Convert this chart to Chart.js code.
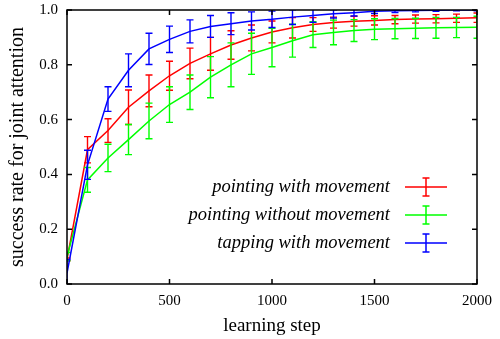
<!DOCTYPE html>
<html>
<head>
<meta charset="utf-8">
<script src="https://cdn.jsdelivr.net/npm/chart.js@4.4.1/dist/chart.umd.min.js"></script>
<style>
  html, body { margin: 0; padding: 0; background: #fff; }
  #chart { display: block; }
</style>
</head>
<body>
<canvas id="chart" width="500" height="339"></canvas>
<script>
// learning steps (x values)
const steps = [0, 100, 200, 300, 400, 500, 600, 700, 800, 900, 1000,
  1100, 1200, 1300, 1400, 1500, 1600, 1700, 1800, 1900, 2000];

// pointing with movement
const pointingWithMean = [0.09, 0.49, 0.56, 0.645, 0.705, 0.76, 0.805, 0.84, 0.872, 0.898, 0.92,
  0.935, 0.947, 0.954, 0.959, 0.962, 0.965, 0.967, 0.968, 0.97, 0.972];
const pointingWithErr = [0.005, 0.048, 0.043, 0.063, 0.058, 0.053, 0.056, 0.06, 0.052, 0.047, 0.04,
  0.037, 0.025, 0.02, 0.018, 0.017, 0.015, 0.015, 0.015, 0.015, 0.017];

// pointing without movement
const pointingWithoutMean = [0.1, 0.38, 0.46, 0.527, 0.595, 0.655, 0.70, 0.755, 0.80, 0.84, 0.863,
  0.888, 0.91, 0.918, 0.925, 0.93, 0.932, 0.933, 0.935, 0.936, 0.937];
const pointingWithoutErr = [0.015, 0.045, 0.05, 0.055, 0.065, 0.065, 0.063, 0.075, 0.08, 0.075, 0.07,
  0.06, 0.047, 0.045, 0.04, 0.038, 0.037, 0.037, 0.038, 0.037, 0.04];

// tapping with movement
const tappingMean = [0.04, 0.435, 0.675, 0.78, 0.858, 0.893, 0.922, 0.94, 0.95, 0.96, 0.966,
  0.974, 0.98, 0.986, 0.99, 0.995, 0.997, 0.998, 0.999, 1.0, 1.0];
const tappingErr = [0.05, 0.053, 0.045, 0.06, 0.057, 0.048, 0.042, 0.04, 0.04, 0.033, 0.03,
  0.027, 0.025, 0.015, 0.012, 0.008, 0.006, 0.005, 0.004, 0.003, 0.003];

const xTicks = [0, 500, 1000, 1500, 2000];
const yTicks = [0.0, 0.2, 0.4, 0.6, 0.8, 1.0];

const FONT = "'Liberation Serif', 'DejaVu Serif', serif";

const toPoints = (means) => means.map((v, i) => ({ x: steps[i], y: v }));

// error bars drawn right after each line so the stacking follows the dataset order
const errorBars = {
  id: 'errorBars',
  afterDatasetDraw(chart, args) {
    const ds = chart.data.datasets[args.index];
    const { ctx, chartArea } = chart;
    const x = chart.scales.x, y = chart.scales.y;
    ctx.save();
    ctx.beginPath();
    ctx.rect(chartArea.left, chartArea.top, chartArea.width, chartArea.height);
    ctx.clip();
    ctx.strokeStyle = ds.borderColor;
    ctx.lineWidth = 1.4;
    ds.data.forEach((p, i) => {
      const px = x.getPixelForValue(p.x);
      const lo = y.getPixelForValue(p.y - ds.errors[i]);
      const hi = y.getPixelForValue(p.y + ds.errors[i]);
      ctx.beginPath();
      ctx.moveTo(px, lo); ctx.lineTo(px, hi);
      ctx.moveTo(px - 3.5, lo); ctx.lineTo(px + 3.5, lo);
      ctx.moveTo(px - 3.5, hi); ctx.lineTo(px + 3.5, hi);
      ctx.stroke();
    });
    ctx.restore();
  }
};

// gnuplot-like frame with inward ticks on all sides, plus the legend
const frameAndLegend = {
  id: 'frameAndLegend',
  afterDraw(chart) {
    const { ctx, chartArea: a } = chart;
    const x = chart.scales.x, y = chart.scales.y;
    ctx.save();
    ctx.strokeStyle = '#000';
    ctx.lineWidth = 1.5;
    ctx.strokeRect(a.left, a.top, a.right - a.left, a.bottom - a.top);
    ctx.beginPath();
    xTicks.forEach(v => {
      const px = x.getPixelForValue(v);
      ctx.moveTo(px, a.bottom); ctx.lineTo(px, a.bottom - 5);
      ctx.moveTo(px, a.top); ctx.lineTo(px, a.top + 5);
    });
    yTicks.forEach(v => {
      const py = y.getPixelForValue(v);
      ctx.moveTo(a.left, py); ctx.lineTo(a.left + 5, py);
      ctx.moveTo(a.right, py); ctx.lineTo(a.right - 5, py);
    });
    ctx.stroke();

    // legend
    ctx.font = 'italic 18.5px ' + FONT;
    ctx.textAlign = 'right';
    ctx.textBaseline = 'middle';
    chart.data.datasets.slice().sort((p, q) => p.legendRow - q.legendRow).forEach((ds, i) => {
      const ly = 187 + i * 28;
      ctx.fillStyle = '#000';
      ctx.fillText(ds.label, 390, ly);
      ctx.strokeStyle = ds.borderColor;
      ctx.lineWidth = 1.5;
      ctx.beginPath();
      ctx.moveTo(405, ly); ctx.lineTo(447, ly);
      ctx.moveTo(426, ly - 9); ctx.lineTo(426, ly + 9);
      ctx.moveTo(422.5, ly - 9); ctx.lineTo(429.5, ly - 9);
      ctx.moveTo(422.5, ly + 9); ctx.lineTo(429.5, ly + 9);
      ctx.stroke();
    });
    ctx.restore();
  }
};

new Chart(document.getElementById('chart'), {
  type: 'line',
  data: {
    datasets: [
      {
        label: 'pointing with movement',
        data: toPoints(pointingWithMean),
        errors: pointingWithErr,
        borderColor: '#ff0000',
        legendRow: 0,
        order: 2
      },
      {
        label: 'pointing without movement',
        data: toPoints(pointingWithoutMean),
        errors: pointingWithoutErr,
        borderColor: '#00ff00',
        legendRow: 1,
        order: 1
      },
      {
        label: 'tapping with movement',
        data: toPoints(tappingMean),
        errors: tappingErr,
        borderColor: '#0000ff',
        legendRow: 2,
        order: 0
      }
    ]
  },
  options: {
    responsive: false,
    animation: false,
    devicePixelRatio: 1,
    layout: { padding: { left: 0, top: 9, right: 23, bottom: 0 } },
    elements: {
      line: { borderWidth: 1.5, tension: 0, fill: false },
      point: { radius: 0 }
    },
    plugins: {
      legend: { display: false },
      tooltip: { enabled: false }
    },
    scales: {
      x: {
        type: 'linear',
        min: 0,
        max: 2000,
        afterFit: (s) => { s.height = 55; },
        afterBuildTicks: (s) => { s.ticks = xTicks.map(v => ({ value: v })); },
        grid: { display: false },
        border: { display: false },
        ticks: {
          color: '#000',
          padding: 0,
          maxRotation: 0,
          callback: (v) => String(v),
          font: { family: FONT, size: 15 }
        },
        title: {
          display: true,
          text: 'learning step',
          color: '#000',
          padding: { top: 6, bottom: 2 },
          font: { family: FONT, size: 19 }
        }
      },
      y: {
        min: 0,
        max: 1,
        afterFit: (s) => { s.width = 67; },
        afterBuildTicks: (s) => { s.ticks = yTicks.map(v => ({ value: v })); },
        grid: { display: false },
        border: { display: false },
        ticks: {
          color: '#000',
          padding: 1,
          callback: (v) => v.toFixed(1),
          font: { family: FONT, size: 15 }
        },
        title: {
          display: true,
          text: 'success rate for joint attention',
          color: '#000',
          padding: { top: 6, bottom: 0 },
          font: { family: FONT, size: 20 }
        }
      }
    }
  },
  plugins: [errorBars, frameAndLegend]
});
</script>
</body>
</html>
